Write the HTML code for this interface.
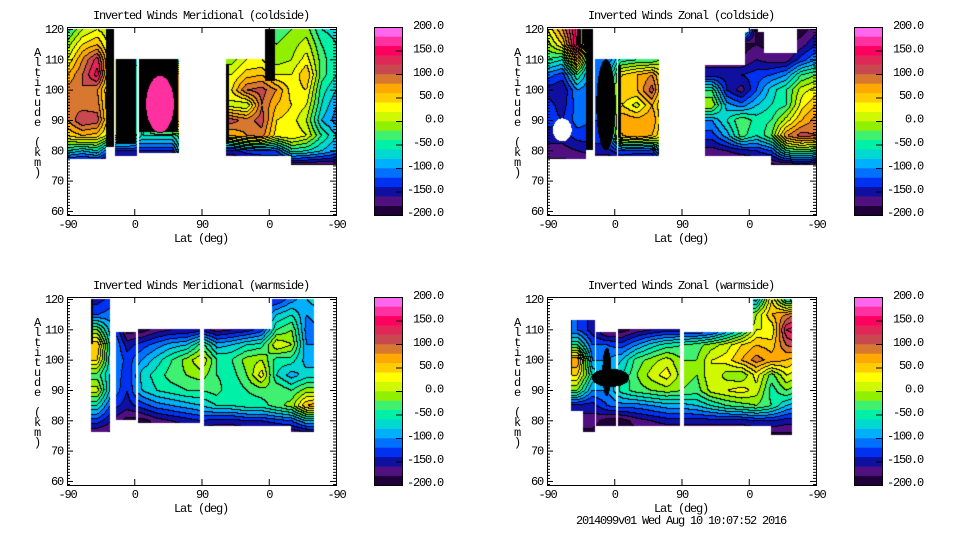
<!DOCTYPE html>
<html><head><meta charset="utf-8">
<style>
html,body{margin:0;padding:0;background:#fff;}
body{width:960px;height:540px;position:relative;overflow:hidden;font-family:"Liberation Mono",monospace;}
canvas{position:absolute;}
svg{position:absolute;left:0;top:0;}
svg text{font-family:"Liberation Mono",monospace;font-size:12px;letter-spacing:-1.2px;fill:#000;}
</style></head>
<body>
<canvas id="c1" width="269" height="188" style="left:67px;top:27px"></canvas>
<canvas id="c2" width="269" height="188" style="left:547px;top:27px"></canvas>
<canvas id="c3" width="269" height="188" style="left:67px;top:297px"></canvas>
<canvas id="c4" width="269" height="188" style="left:547px;top:297px"></canvas>
<svg id="ov" width="960" height="540"></svg>
<script>
// ---- chart data ----
const latTickLabels = ["-90","0","90","0","-90"];
const latTickPos = [0,90,180,270,360];
const altTicks = [60,70,80,90,100,110,120];
const cbarTicks = [200,150,100,50,0,-50,-100,-150,-200];
const gridAlts = [120,115,110,105,100,95,90,85,80,75];
const gridU = [0,20,40,60,80,100,120,140,160,180,200,220,240,260,280,300,320,340,360];
const levelColors = ["#200038","#501080","#1010a0","#0030f0","#0070ff","#00b0ff","#00d8d0","#00f0a8","#40f070","#90f000","#d0f800","#ffff00","#ffcc00","#ffa800","#d87830","#c84850","#e02858","#ff0060","#ff30a0","#ff66ee"];
const titles = ["Inverted Winds Meridional (coldside)","Inverted Winds Zonal (coldside)","Inverted Winds Meridional (warmside)","Inverted Winds Zonal (warmside)"];
const A190 = [-190,-190,-190,-190,-190,-190,-190,-190,-190,-190,-190,-190,-190,-190,-190,-190,-190,-190,-190];

const merCold = [
[-50,0,20,0,0,0,0,0,0,0,-20,-20,-20,-20,-30,-20,-10,-60,-70],
[-10,40,60,0,0,0,0,0,0,0,-10,-10,0,0,-20,-10,10,-40,-60],
[20,80,130,0,0,-100,-100,-100,0,0,-10,-10,20,20,-10,0,30,-30,-60],
[60,100,150,0,0,-80,170,170,0,0,20,20,50,60,20,20,60,-30,-60],
[90,100,80,0,0,-80,170,170,0,0,40,40,100,110,80,30,40,-50,-80],
[90,90,90,0,0,-80,170,170,0,0,10,10,0,100,60,40,20,-60,-100],
[80,120,110,0,0,-80,170,170,0,0,110,110,90,110,40,30,0,-80,-110],
[40,60,50,0,0,-60,-60,-60,0,0,60,60,80,90,30,40,20,-40,-80],
[-60,-80,-60,-140,-140,-140,-140,-140,0,0,-150,-150,-130,-120,-120,-50,-60,-80,-100],
A190];
const zonCold = [
[20,80,170,-120,-120,-50,-40,-40,0,0,0,0,0,0,-190,-190,-190,-190,-170],
[-10,40,170,-120,-120,-50,-40,-40,0,0,-190,-190,-190,-190,-180,-190,-190,-170,-140],
[-40,-60,80,-120,-120,-50,-40,-40,0,0,-170,-170,-170,-180,-160,-170,-170,-130,-100],
[-110,-130,-40,-120,-120,40,60,80,0,0,-150,-150,-150,-140,-130,-120,-100,-40,-20],
[-150,-160,-100,-120,-120,60,60,110,0,0,-40,-40,-140,-170,-120,-70,-40,10,30],
[-130,-150,-110,-120,-120,40,10,60,0,0,0,0,-90,-110,-80,-60,-40,30,60],
[-130,-140,-110,-120,-120,80,70,80,0,0,-100,-100,-60,-20,-50,-40,10,60,90],
[-150,-150,-130,-130,-130,60,80,60,0,0,-130,-130,-90,-30,-60,-20,80,110,100],
[-170,-170,-160,-150,-150,-120,-130,-130,0,0,-170,-170,-160,-150,-140,-120,-40,-30,-40],
A190];
const merWarm = [
[-150,-150,-150,-130,-190,-190,-170,-160,-160,-150,-170,-160,-150,-130,-140,-110,-80,-60,-60],
[-120,-120,-120,-110,-190,-190,-170,-160,-160,-150,-170,-160,-150,-130,-80,-60,-100,-90,-90],
[-20,-20,-20,-100,-190,-190,-170,-160,-160,-150,-170,-160,-150,-130,-40,-20,-110,-100,-100],
[60,60,60,-90,-150,-130,-110,-90,-80,-30,-90,-80,-60,-50,20,0,-100,-100,-100],
[40,40,40,-90,-130,-100,-70,-40,-10,20,-40,-40,-10,0,-50,-50,-90,-90,-90],
[-30,-30,-30,-90,-140,-70,-50,-30,-20,-10,-40,-50,-20,30,-60,-90,-70,-70,-70],
[10,10,10,-100,-140,-80,-60,-50,-40,-40,-30,-60,-40,-30,-20,-40,-10,-10,-10],
[-60,-60,-60,-130,-150,-130,-110,-100,-90,-80,-60,-60,-50,-50,-30,-10,60,80,80],
[-130,-130,-130,-160,-190,-190,-170,-160,-150,-140,-150,-150,-140,-140,-130,-120,-80,-80,-80],
A190];
const zonWarm = [
[-120,-120,-120,-150,-190,-190,-170,-160,-150,-150,-150,-140,-100,-60,-90,40,-60,-80,-80],
[-120,-120,-120,-150,-190,-190,-170,-160,-150,-150,-150,-140,-100,-60,0,60,80,120,120],
[-120,-120,-120,-150,-190,-190,-170,-160,-150,-150,-150,-140,-100,-60,20,20,140,160,160],
[-40,-40,-40,-120,-120,-130,-100,-70,-50,-40,-30,-10,10,40,60,50,100,120,120],
[80,80,80,-100,-100,-80,-30,-10,10,-20,-20,20,30,60,90,70,60,40,40],
[40,40,40,-60,-100,-60,-20,10,30,-10,-20,20,-10,-20,30,-30,20,0,0],
[-20,-20,-20,-100,-100,-50,-30,-20,-10,-20,-30,10,20,30,10,-50,-20,-40,-40],
[-150,-150,-150,-150,-120,-110,-110,-100,-90,-90,-80,-60,-40,-30,-20,-40,-80,-100,-100],
[-170,-170,-170,-170,-190,-190,-170,-160,-150,-150,-150,-150,-150,-150,-140,-140,-150,-150,-150],
A190];

// coverage regions in data units: [shape, u0, u1, alt0, alt1, kind]
const merColdMask = [['r',0,52,77,120,'c'],['r',52,63,81,120,'k'],['r',64,94,78,110,'c'],['r',66,93,82,110,'k'],['r',96,150,79,110,'c'],['r',97,149,86,110,'k'],['e',106,143,86,104.5,170],['r',213,360,78,110,'c'],['r',265,360,78,120,'c'],['r',300,360,75,80,'c'],['r',213,217,82,108,'k'],['r',265,278,103,120,'k']];
const zonColdMask = [['r',0,52,77,120,'c'],['r',52,62,80,120,'k'],['e',8,33,83,90.5,'w'],['r',64,94,78,110,'c'],['e',66,92,80,110,'k'],['r',95,150,78,110,'c'],['r',95,99,84,108,'k'],['r',212,360,78,108,'c'],['r',265,290,100,119,'c'],['r',272,282,100,120,'c'],['r',290,335,100,112,'c'],['r',335,360,100,120,'c'],['r',300,360,75,80,'c']];
const merWarmMask = [['r',32,58,76,120,'c'],['r',32,35,105,120,'k'],['r',66,92,80,109,'c'],['r',95,178,79,110,'c'],['r',183,330,78,110,'c'],['r',275,330,78,120,'c'],['r',300,330,76,80,'c']];
const zonWarmMask = [['r',32,64,83,113,'c'],['r',48,64,76,84,'c'],['r',66,93,78,109,'c'],['e',74,86,88,104,'k'],['r',95,178,78,110,'c'],['e',60,110,91,97,'k'],['r',183,328,78,109,'c'],['r',276,328,78,120,'c'],['r',300,328,75,80,'c'],['r',32,34,95,113,'k']];

// ---- geometry ----
const PW=269, PH=188, ATOP=120.66, ABOT=58.66;
const panels=[{x:67,y:27,g:merCold,m:merColdMask,id:'c1'},{x:547,y:27,g:zonCold,m:zonColdMask,id:'c2'},{x:67,y:297,g:merWarm,m:merWarmMask,id:'c3'},{x:547,y:297,g:zonWarm,m:zonWarmMask,id:'c4'}];
function xOf(u){return u/360*PW;}
function yOf(a){return (ATOP-a)/(ATOP-ABOT)*PH;}
function hex(c){return [parseInt(c.substr(1,2),16),parseInt(c.substr(3,2),16),parseInt(c.substr(5,2),16)];}
const rgb=levelColors.map(hex);
function sample(g,u,a){
  let ci=Math.max(0,Math.min(gridU.length-1.0001,u/20));
  let ri=Math.max(0,Math.min(gridAlts.length-1.0001,(120-a)/5));
  const c0=Math.floor(ci),r0=Math.floor(ri),fx=ci-c0,fy=ri-r0;
  const v00=g[r0][c0],v01=g[r0][c0+1],v10=g[r0+1][c0],v11=g[r0+1][c0+1];
  return (v00*(1-fx)+v01*fx)*(1-fy)+(v10*(1-fx)+v11*fx)*fy;
}
function kindAt(m,u,a){
  let k=null;
  for(const s of m){
    let inside;
    if(s[0]==='r') inside=u>=s[1]&&u<=s[2]&&a>=s[3]&&a<=s[4];
    else{const cu=(s[1]+s[2])/2,ru=(s[2]-s[1])/2,ca=(s[3]+s[4])/2,ra=(s[4]-s[3])/2;
      inside=((u-cu)/ru)**2+((a-ca)/ra)**2<=1;}
    if(inside) k=s[5];
  }
  return k;
}
panels.forEach(p=>{
  const cv=document.getElementById(p.id),ctx=cv.getContext('2d');
  const img=ctx.createImageData(PW,PH);
  const lev=new Int16Array(PW*PH);
  for(let y=0;y<PH;y++)for(let x=0;x<PW;x++){
    const u=(x+0.5)/PW*360,a=ATOP-(y+0.5)/PH*(ATOP-ABOT);
    const k=kindAt(p.m,u,a);
    let L=-1;
    if(k==='k') L=-2;
    else if(k==='c'||typeof k==='number'){
      const v=(typeof k==='number')?k:sample(p.g,u,a);
      L=Math.max(0,Math.min(19,Math.floor((v+200)/20)));
    }
    lev[y*PW+x]=L;
  }
  for(let y=0;y<PH;y++)for(let x=0;x<PW;x++){
    const i=y*PW+x,L=lev[i],o=i*4;
    let col=[255,255,255];
    if(L===-2) col=[0,0,0];
    else if(L>=0){
      col=rgb[L];
      const l2=x>0?lev[i-1]:L,l3=y>0?lev[i-PW]:L;
      if((l2>=0&&l2!==L)||(l3>=0&&l3!==L)) col=[0,0,0];
    }
    img.data[o]=col[0];img.data[o+1]=col[1];img.data[o+2]=col[2];img.data[o+3]=255;
  }
  ctx.putImageData(img,0,0);
});

// ---- axes overlay ----
const svg=document.getElementById('ov');
const NS='http://www.w3.org/2000/svg';
function mk(tag,attrs,parent){const e=document.createElementNS(NS,tag);for(const k in attrs)e.setAttribute(k,attrs[k]);(parent||svg).appendChild(e);return e;}
const pnames=['meridional-coldside','zonal-coldside','meridional-warmside','zonal-warmside'];
panels.forEach((p,pi)=>{
  const g=mk('g',{});
  
  
  const fr=mk('rect',{x:p.x+0.5,y:p.y+0.5,width:PW,height:PH,fill:'none',stroke:'#000','stroke-width':1},g);
  
  
  const t=mk('text',{x:p.x+134,y:p.y-8,'text-anchor':'middle'},g);t.textContent=titles[pi];
  
  
  for(let a=59;a<=120;a++){
    const yy=p.y+yOf(a)+0.5,len=(a%10===0)?6:3;
    mk('line',{x1:p.x,x2:p.x+len,y1:yy,y2:yy,stroke:'#000'},g);
    mk('line',{x1:p.x+PW,x2:p.x+PW-len,y1:yy,y2:yy,stroke:'#000'},g);
  }
  altTicks.forEach(a=>{
    const tt=mk('text',{x:p.x-4,y:p.y+yOf(a)+4,'text-anchor':'end'},g);tt.textContent=a;
    
    
  });
  latTickPos.forEach((u,i)=>{
    const xx=p.x+xOf(u)+0.5;
    mk('line',{x1:xx,x2:xx,y1:p.y+PH,y2:p.y+PH-6,stroke:'#000'},g);
    mk('line',{x1:xx,x2:xx,y1:p.y,y2:p.y+6,stroke:'#000'},g);
    const tt=mk('text',{x:xx,y:p.y+PH+13,'text-anchor':'middle'},g);tt.textContent=latTickLabels[i];
    
    
  });
  const xl=mk('text',{x:p.x+134,y:p.y+PH+27,'text-anchor':'middle'},g);xl.textContent='Lat (deg)';
  
  
  const yl=mk('g',{},g);
  
  
  const letters=['A','l','t','i','t','u','d','e','','(','k','m',')'];
  letters.forEach((c,i)=>{if(!c)return;const tt=mk('text',{x:p.x-30,y:p.y+29+i*10,'text-anchor':'middle'},yl);tt.textContent=c;});
  const cb=mk('g',{},g);
  
  
  const cx=p.x+307,bw=28,bh=188,n=levelColors.length;
  levelColors.forEach((c,i)=>{
    const y0=p.y+bh-(i+1)*bh/n;
    mk('rect',{x:cx,y:y0,width:bw,height:bh/n+0.3,fill:c},cb);
  });
  mk('rect',{x:cx+0.5,y:p.y+0.5,width:bw,height:bh,fill:'none',stroke:'#000'},cb);
  cbarTicks.forEach((v,i)=>{
    const yy=p.y+(200-v)/400*bh;
    if(v<200&&v>-200) mk('line',{x1:cx+bw-6,x2:cx+bw,y1:yy+0.5,y2:yy+0.5,stroke:'#000'},cb);
    const tt=mk('text',{x:cx+69,y:p.y-2+i*23.4+4,'text-anchor':'end'},cb);tt.textContent=v.toFixed(1);
    
    
  });
});
const ft=mk('text',{x:681,y:524,'text-anchor':'middle'});ft.textContent='2014099v01 Wed Aug 10 10:07:52 2016';


</script>
</body></html>
